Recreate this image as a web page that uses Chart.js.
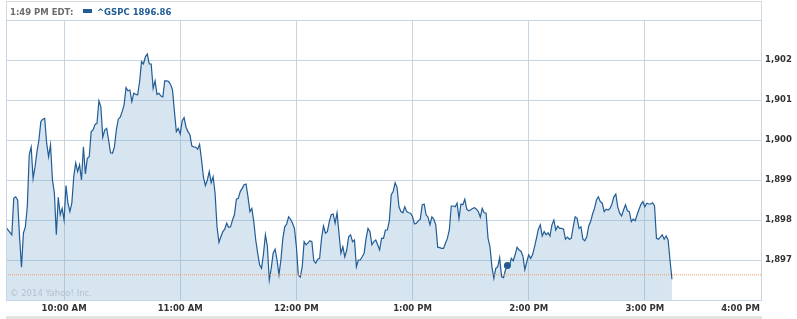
<!DOCTYPE html>
<html>
<head>
<meta charset="utf-8">
<script src="https://cdn.jsdelivr.net/npm/chart.js@4.4.1/dist/chart.umd.min.js"></script>
<style>
  html, body { margin: 0; padding: 0; background: #fff; }
  #wrap { width: 797px; height: 319px; }
</style>
</head>
<body>
<div id="wrap"><canvas id="spxChart" width="797" height="319"></canvas></div>
<script>
// one value per minute, index 0 = 9:30 AM
const prices = [
    1897.82, 1897.75, 1897.69, 1897.63, 1898.54, 1898.58, 1898.50, 1897.58, 1896.82, 1897.67,
    1897.83, 1898.33, 1899.63, 1899.82, 1899.04, 1899.33, 1899.71, 1900.00, 1900.46, 1900.52,
    1900.54, 1899.92, 1899.58, 1899.88, 1899.00, 1898.67, 1897.63, 1898.57, 1898.13, 1898.29,
    1898.00, 1898.86, 1898.42, 1898.21, 1898.42, 1899.08, 1899.43, 1899.21, 1899.38, 1899.00,
    1899.83, 1899.15, 1899.54, 1899.58, 1900.21, 1900.25, 1900.39, 1900.42, 1900.98, 1900.83,
    1900.07, 1900.25, 1900.29, 1900.00, 1899.68, 1899.67, 1899.83, 1900.25, 1900.52, 1900.57,
    1900.71, 1900.88, 1901.31, 1901.23, 1901.25, 1900.96, 1901.17, 1901.14, 1901.13, 1901.45,
    1901.96, 1901.90, 1902.08, 1902.15, 1901.90, 1901.90, 1901.29, 1901.48, 1901.14, 1901.17,
    1901.10, 1901.08, 1901.48, 1901.48, 1901.46, 1901.39, 1901.25, 1900.71, 1900.21, 1900.29,
    1900.15, 1900.48, 1900.56, 1900.32, 1900.21, 1900.13, 1899.85, 1899.83, 1899.82, 1899.77,
    1899.89, 1899.50, 1899.07, 1898.86, 1899.00, 1899.21, 1898.93, 1899.08, 1898.67, 1897.83,
    1897.44, 1897.58, 1897.71, 1897.77, 1897.92, 1897.82, 1897.83, 1898.00, 1898.13, 1898.52,
    1898.54, 1898.71, 1898.79, 1898.88, 1898.90, 1898.58, 1898.21, 1898.29, 1897.96, 1897.50,
    1897.17, 1896.88, 1896.79, 1897.15, 1897.63, 1897.35, 1896.50, 1896.79, 1897.17, 1897.27,
    1897.00, 1896.63, 1897.00, 1897.54, 1897.83, 1897.90, 1898.08, 1898.02, 1897.92, 1897.79,
    1897.33, 1896.63, 1896.57, 1896.83, 1897.46, 1897.38, 1897.43, 1897.48, 1897.46, 1896.98,
    1896.92, 1897.02, 1897.04, 1897.54, 1897.85, 1897.67, 1897.71, 1897.96, 1898.13, 1898.15,
    1897.92, 1898.18, 1897.67, 1897.17, 1897.33, 1897.08, 1897.25, 1897.58, 1897.63, 1897.46,
    1897.50, 1896.83, 1897.00, 1897.00, 1897.08, 1897.17, 1897.54, 1897.79, 1897.71, 1897.38,
    1897.46, 1897.50, 1897.38, 1897.25, 1897.54, 1897.54, 1897.75, 1897.75, 1897.98, 1898.63,
    1898.71, 1898.93, 1898.81, 1898.33, 1898.21, 1898.18, 1898.33, 1898.21, 1898.18, 1898.17,
    1898.08, 1897.90, 1897.92, 1897.98, 1898.02, 1898.38, 1898.40, 1898.13, 1898.07, 1897.88,
    1898.08, 1898.02, 1897.88, 1897.32, 1897.31, 1897.29, 1897.29, 1897.42, 1897.54, 1897.75,
    1898.35, 1898.35, 1898.33, 1898.42, 1898.04, 1898.40, 1898.38, 1898.52, 1898.27, 1898.23,
    1898.25, 1898.29, 1898.31, 1898.27, 1898.21, 1898.07, 1898.29, 1898.18, 1898.17, 1897.54,
    1897.33, 1896.83, 1896.54, 1896.79, 1896.83, 1897.06, 1896.58, 1896.56, 1896.75, 1896.86,
    1896.83, 1897.04, 1896.98, 1897.13, 1897.32, 1897.25, 1897.22, 1897.10, 1896.76, 1896.95,
    1897.13, 1897.04, 1897.13, 1897.33, 1897.54, 1897.77, 1897.88, 1897.60, 1897.71, 1897.63,
    1897.68, 1897.60, 1897.88, 1898.00, 1897.75, 1897.85, 1897.79, 1897.79, 1897.77, 1897.52,
    1897.57, 1897.52, 1897.54, 1897.83, 1898.08, 1898.04, 1897.79, 1897.83, 1897.52, 1897.48,
    1897.58, 1897.85, 1897.96, 1898.15, 1898.29, 1898.50, 1898.58, 1898.46, 1898.42, 1898.21,
    1898.27, 1898.25, 1898.29, 1898.40, 1898.58, 1898.65, 1898.33, 1898.17, 1898.10, 1898.25,
    1898.38, 1898.23, 1898.21, 1897.96, 1898.02, 1897.98, 1898.13, 1898.27, 1898.39, 1898.46,
    1898.33, 1898.42, 1898.40, 1898.40, 1898.43, 1898.35, 1897.54, 1897.52, 1897.57, 1897.63,
    1897.52, 1897.60, 1897.50, 1897.00, 1896.52
];

const hourTicks = [30, 90, 150, 210, 270, 330, 390]; // minutes after 9:30
const hourLabels = ['10:00 AM', '11:00 AM', '12:00 PM', '1:00 PM', '2:00 PM', '3:00 PM', '4:00 PM'];
const priceTicks = [1897, 1898, 1899, 1900, 1901, 1902];
const prevClose = 1896.63;
const hoverIndex = 259; // 1:49 PM
const legendTime = '1:49 PM EDT:';
const legendLabel = '^GSPC 1896.86';
const copyright = '\u00A9 2014 Yahoo! Inc.';

const FONT = '"DejaVu Sans", Verdana, sans-serif';
const lineBlue = '#215c95';
const gridColor = '#c7d6e2';

// legend bar, frame, time labels etc.
const framePlugin = {
    id: 'frame',
    afterDraw(chart) {
        const ctx = chart.ctx;
        const area = chart.chartArea;
        const xScale = chart.scales.x;
        ctx.save();

        // plot frame
        ctx.strokeStyle = gridColor;
        ctx.lineWidth = 1;
        ctx.strokeRect(Math.round(area.left) + 0.5, Math.round(area.top) + 0.5,
            Math.round(area.right - area.left), Math.round(area.bottom - area.top));

        // legend bar above the plot
        ctx.fillStyle = '#fff';
        ctx.fillRect(Math.round(area.left), 2, Math.round(area.right - area.left), 18);
        ctx.strokeStyle = '#d9d9d9';
        ctx.strokeRect(Math.round(area.left) + 0.5, 1.5, Math.round(area.right - area.left), 19);
        ctx.strokeStyle = gridColor;
        ctx.beginPath();
        ctx.moveTo(area.left, Math.round(area.top) + 0.5);
        ctx.lineTo(area.right + 1, Math.round(area.top) + 0.5);
        ctx.stroke();

        ctx.font = 'bold 8.5px ' + FONT;
        ctx.textBaseline = 'alphabetic';
        ctx.textAlign = 'left';
        ctx.fillStyle = '#6b6b6b';
        ctx.fillText(legendTime, 10, 15);
        ctx.fillStyle = lineBlue;
        ctx.fillRect(83, 9, 9, 4);
        ctx.fillText(legendLabel, 97, 15);

        // time labels; last one kept inside the frame
        ctx.fillStyle = '#333';
        ctx.textBaseline = 'middle';
        hourTicks.forEach((m, i) => {
            const px = xScale.getPixelForValue(m);
            if (i === hourTicks.length - 1) {
                ctx.textAlign = 'right';
                ctx.fillText(hourLabels[i], px - 1, 309);
            } else {
                ctx.textAlign = 'center';
                ctx.fillText(hourLabels[i], px, 309);
            }
        });

        // copyright
        ctx.font = '8.5px ' + FONT;
        ctx.textAlign = 'left';
        ctx.textBaseline = 'alphabetic';
        ctx.fillStyle = '#b3c1cd';
        ctx.fillText(copyright, 10, 296);

        // grey strip at the bottom
        ctx.fillStyle = '#e4e4e4';
        ctx.fillRect(Math.round(area.left), 316, Math.round(area.right - area.left) + 1, 3);

        ctx.restore();
    }
};

const ctx = document.getElementById('spxChart').getContext('2d');
const spxChart = new Chart(ctx, {
    type: 'line',
    data: {
        datasets: [
            {
                label: 'Prev close',
                data: [{ x: 0, y: prevClose }, { x: 390, y: prevClose }],
                borderColor: '#f39a6b',
                borderWidth: 1,
                borderDash: [1, 1],
                pointRadius: 0,
                fill: false
            },
            {
                label: '^GSPC',
                data: prices.map((p, i) => ({ x: i, y: p })),
                borderColor: lineBlue,
                borderWidth: 1.2,
                backgroundColor: 'rgba(110, 160, 205, 0.28)',
                fill: 'start',
                tension: 0,
                pointRadius: c => (c.dataIndex === hoverIndex ? 3.5 : 0),
                pointBackgroundColor: lineBlue,
                pointBorderWidth: 0
            }
        ]
    },
    options: {
        responsive: false,
        animation: false,
        events: [],
        layout: { padding: { left: 6, top: 20, right: 0, bottom: 0 } },
        plugins: {
            legend: { display: false },
            tooltip: { enabled: false }
        },
        scales: {
            x: {
                type: 'linear',
                min: 0,
                max: 390,
                afterBuildTicks: s => { s.ticks = hourTicks.map(v => ({ value: v })); },
                afterFit: s => { s.height = 19; },
                ticks: { display: false },
                grid: { color: gridColor, drawTicks: false },
                border: { display: false }
            },
            y: {
                position: 'right',
                min: 1896,
                max: 1903,
                afterBuildTicks: s => { s.ticks = priceTicks.map(v => ({ value: v })); },
                afterFit: s => { s.width = 36; },
                ticks: {
                    padding: 4,
                    color: '#333',
                    font: { family: FONT, size: 8.5, weight: 'bold' },
                    callback: v => v.toLocaleString('en-US')
                },
                grid: { color: gridColor, drawTicks: false },
                border: { display: false }
            }
        }
    },
    plugins: [framePlugin]
});
</script>
</body>
</html>
